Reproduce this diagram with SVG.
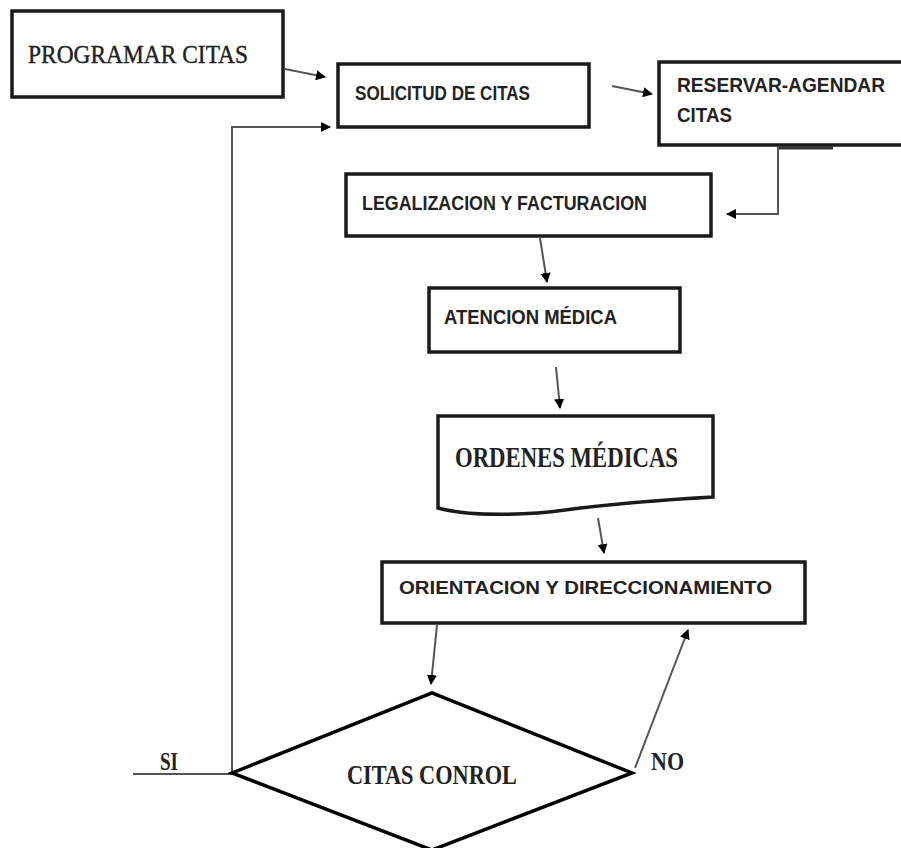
<svg xmlns="http://www.w3.org/2000/svg" width="901" height="848" viewBox="0 0 901 848">
<defs>
<style>
.box{fill:#fff;stroke:#1a1a1a;stroke-width:3.5}
.conn{fill:none;stroke:#555;stroke-width:2}
.sans{font-family:"Liberation Sans",Arial,sans-serif;font-weight:bold;fill:#222}
.serif{font-family:"Liberation Serif","Times New Roman",serif;fill:#222}
</style>
<marker id="ah" viewBox="0 0 10 10" refX="9" refY="5" markerWidth="5" markerHeight="5" orient="auto-start-reverse">
<path d="M0,0 L10,5 L0,10 Z" fill="#000"/>
</marker>
</defs>
<rect width="901" height="848" fill="#fff"/>
<g id="connectors">
<line class="conn" x1="285" y1="69" x2="325" y2="77" marker-end="url(#ah)"/>
<line class="conn" x1="612" y1="86" x2="652" y2="94" marker-end="url(#ah)"/>
<line x1="778" y1="148" x2="833" y2="148" stroke="#333" stroke-width="3"/>
<path class="conn" d="M778,147 V214 H727" marker-end="url(#ah)"/>
<line class="conn" x1="540" y1="238" x2="547" y2="282" marker-end="url(#ah)"/>
<line class="conn" x1="556" y1="367" x2="560" y2="408" marker-end="url(#ah)"/>
<line class="conn" x1="598" y1="518" x2="604" y2="553" marker-end="url(#ah)"/>
<line class="conn" x1="437" y1="625" x2="431" y2="684" marker-end="url(#ah)"/>
<line class="conn" x1="635" y1="768" x2="688" y2="630" marker-end="url(#ah)"/>
<line class="conn" x1="133" y1="774" x2="232" y2="774"/>
<path class="conn" d="M232,774 V127 H330" marker-end="url(#ah)"/>
</g>
<g id="programar">
<rect class="box" x="12" y="11" width="271" height="86"/>
<text class="serif" x="28" y="63" font-size="25" textLength="220" lengthAdjust="spacingAndGlyphs" stroke="#222" stroke-width="0.4">PROGRAMAR CITAS</text>
</g>
<g id="solicitud">
<rect class="box" x="338" y="64" width="251" height="63"/>
<text class="sans" x="355" y="100" font-size="20" textLength="175" lengthAdjust="spacingAndGlyphs">SOLICITUD DE CITAS</text>
</g>
<g id="reservar">
<rect class="box" x="659" y="62" width="245" height="83"/>
<text class="sans" x="677" y="92" font-size="20" textLength="208" lengthAdjust="spacingAndGlyphs">RESERVAR-AGENDAR</text>
<text class="sans" x="677" y="122" font-size="20" textLength="55" lengthAdjust="spacingAndGlyphs">CITAS</text>
</g>
<g id="legalizacion">
<rect class="box" x="346" y="174" width="365" height="62"/>
<text class="sans" x="362" y="210" font-size="21" textLength="285" lengthAdjust="spacingAndGlyphs">LEGALIZACION Y FACTURACION</text>
</g>
<g id="atencion">
<rect class="box" x="429" y="288" width="251" height="64"/>
<text class="sans" x="444" y="324" font-size="21" textLength="173" lengthAdjust="spacingAndGlyphs">ATENCION MÉDICA</text>
</g>
<g id="ordenes">
<path class="box" d="M438,416 H713 V497 C660,500 610,504 565,510 C530,515 470,517 438,508 Z"/>
<text class="serif" x="455" y="467" font-size="30" font-weight="bold" textLength="223" lengthAdjust="spacingAndGlyphs">ORDENES MÉDICAS</text>
</g>
<g id="orientacion">
<rect class="box" x="382" y="562" width="423" height="61"/>
<text class="sans" x="399" y="594" font-size="19" textLength="373" lengthAdjust="spacingAndGlyphs">ORIENTACION Y DIRECCIONAMIENTO</text>
</g>
<g id="citas-control">
<path d="M232,773 L432,693 L632,773 L432,850 Z" fill="#fff" stroke="#000" stroke-width="3.5"/>
<text class="serif" x="347" y="784" font-size="28" font-weight="bold" textLength="170" lengthAdjust="spacingAndGlyphs">CITAS CONROL</text>
</g>
<g id="labels">
<text class="serif" x="160" y="770" font-size="25" font-weight="bold" textLength="18" lengthAdjust="spacingAndGlyphs">SI</text>
<text class="serif" x="651" y="770" font-size="25" font-weight="bold" textLength="33" lengthAdjust="spacingAndGlyphs">NO</text>
</g>
</svg>
